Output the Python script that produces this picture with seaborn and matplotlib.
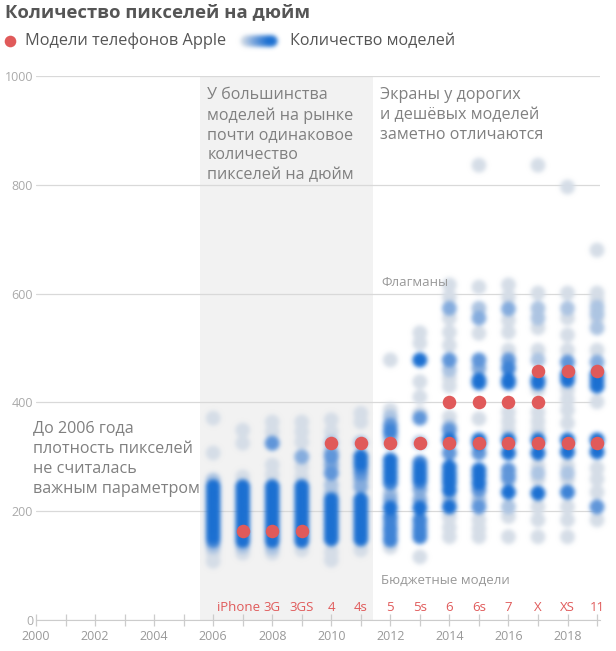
import numpy as np
import pandas as pd
import seaborn as sns
import matplotlib.pyplot as plt
from matplotlib.colors import LinearSegmentedColormap

# pixel density of phone models released each year, and how many models had it
YEARS = list(range(2006, 2020))
ppi_2006 = [371, 307, 257, 245, 236, 227, 218, 209, 200, 191, 182, 173, 164, 155, 146, 135, 123, 108]
cnt_2006 = [1, 1, 2, 6, 8, 7, 8, 7, 9, 7, 8, 7, 8, 9, 5, 2, 1, 1]
ppi_2007 = [349, 325, 263, 245, 236, 227, 218, 209, 200, 191, 182, 173, 164, 155, 146, 135, 123]
cnt_2007 = [1, 1, 1, 6, 7, 8, 7, 8, 8, 8, 7, 8, 9, 8, 6, 2, 1]
ppi_2008 = [364, 346, 325, 285, 267, 245, 236, 227, 218, 209, 200, 191, 182, 173, 164, 155, 146, 133, 123]
cnt_2008 = [1, 1, 4, 1, 1, 7, 8, 8, 7, 8, 8, 7, 8, 7, 8, 8, 6, 2, 1]
ppi_2009 = [364, 346, 327, 300, 281, 263, 245, 236, 227, 218, 209, 200, 191, 182, 173, 164, 155, 146, 129]
cnt_2009 = [1, 1, 1, 3, 1, 1, 6, 7, 8, 7, 8, 8, 7, 8, 7, 8, 8, 6, 1]
ppi_2010 = [368, 346, 326, 307, 300, 285, 270, 248, 233, 221, 212, 203, 194, 185, 176, 167, 158, 149, 125, 110]
cnt_2010 = [1, 1, 2, 3, 4, 3, 4, 2, 2, 7, 8, 8, 7, 8, 7, 8, 7, 6, 1, 1]
ppi_2011 = [380, 364, 326, 300, 290, 281, 270, 258, 245, 221, 212, 203, 194, 185, 176, 167, 158, 149, 129]
cnt_2011 = [1, 1, 2, 6, 6, 5, 4, 3, 3, 8, 7, 8, 8, 7, 8, 7, 8, 6, 1]
ppi_2012 = [478, 386, 373, 358, 347, 337, 326, 294, 283, 272, 262, 252, 232, 221, 206, 189, 178, 167, 157, 147, 134]
cnt_2012 = [1, 1, 2, 4, 5, 3, 2, 6, 7, 7, 6, 5, 2, 3, 8, 5, 4, 5, 4, 5, 1]
ppi_2013 = [528, 509, 478, 438, 410, 380, 371, 326, 289, 279, 270, 262, 254, 240, 221, 206, 184, 173, 163, 153, 116]
cnt_2013 = [1, 1, 6, 1, 1, 1, 4, 2, 5, 7, 8, 6, 5, 3, 3, 8, 5, 4, 5, 5, 1]
ppi_2014 = [616, 594, 573, 555, 529, 505, 478, 460, 445, 430, 373, 355, 349, 331, 307, 281, 270, 261, 252, 239, 223, 208, 189, 170, 153]
cnt_2014 = [1, 1, 3, 1, 1, 1, 4, 2, 1, 1, 1, 2, 4, 8, 4, 7, 8, 8, 6, 7, 2, 7, 1, 1, 1]
ppi_2015 = [836, 612, 573, 555, 527, 478, 463, 441, 436, 370, 331, 326, 307, 276, 265, 252, 239, 221, 208, 184, 168, 153]
cnt_2015 = [1, 1, 2, 3, 1, 4, 3, 8, 8, 1, 7, 6, 4, 8, 8, 7, 4, 2, 4, 1, 1, 1]
ppi_2016 = [616, 594, 572, 551, 529, 496, 478, 463, 441, 436, 382, 365, 349, 331, 307, 276, 265, 259, 235, 208, 190, 153]
cnt_2016 = [1, 1, 3, 1, 1, 1, 4, 5, 8, 7, 1, 1, 1, 8, 7, 4, 4, 3, 7, 2, 1, 1]
ppi_2017 = [836, 601, 573, 555, 537, 496, 478, 441, 436, 423, 382, 365, 349, 331, 307, 283, 270, 259, 233, 208, 184, 153]
cnt_2017 = [1, 1, 2, 2, 1, 1, 2, 8, 8, 1, 1, 1, 1, 8, 8, 1, 2, 1, 7, 1, 1, 1]
ppi_2018 = [796, 601, 573, 555, 524, 496, 474, 450, 441, 423, 405, 386, 362, 331, 309, 283, 270, 259, 235, 208, 184, 153]
cnt_2018 = [1, 1, 2, 1, 1, 1, 4, 6, 8, 1, 1, 1, 1, 8, 8, 1, 2, 1, 5, 1, 1, 1]
ppi_2019 = [680, 601, 588, 575, 563, 555, 537, 496, 474, 450, 440, 430, 401, 331, 309, 279, 259, 235, 208, 184]
cnt_2019 = [1, 1, 1, 2, 2, 1, 2, 1, 3, 8, 8, 7, 1, 8, 8, 1, 1, 1, 4, 1]

PPI = [ppi_2006, ppi_2007, ppi_2008, ppi_2009, ppi_2010, ppi_2011, ppi_2012,
       ppi_2013, ppi_2014, ppi_2015, ppi_2016, ppi_2017, ppi_2018, ppi_2019]
CNT = [cnt_2006, cnt_2007, cnt_2008, cnt_2009, cnt_2010, cnt_2011, cnt_2012,
       cnt_2013, cnt_2014, cnt_2015, cnt_2016, cnt_2017, cnt_2018, cnt_2019]

# apple phones
apple_year = [2007, 2008, 2009, 2010, 2011, 2012, 2013, 2014, 2014, 2015, 2015,
              2016, 2016, 2017, 2017, 2017, 2018, 2018, 2019, 2019]
apple_ppi = [163, 163, 163, 326, 326, 326, 326, 326, 401, 326, 401,
             326, 401, 326, 401, 458, 326, 458, 326, 458]
model_year = list(range(2007, 2020))
model_name = ['iPhone', '3G', '3GS', '4', '4s', '5', '5s', '6', '6s', '7', 'X', 'XS', '11']

BLUE_CMAP = LinearSegmentedColormap.from_list('cnt', ['#d6dee8', '#6f9fdc', '#1a6fd2'])
RED = '#e05a5a'
TXT = '#808080'


def blur(im, dpi, sigma=1.5):
    # gaussian blur on premultiplied rgba, used as agg filter
    pad = int(3 * sigma) + 1
    src = np.pad(im, ((pad, pad), (pad, pad), (0, 0)))
    src[..., :3] *= src[..., 3:4]
    offs = np.arange(-pad, pad + 1)
    k = np.exp(-0.5 * (offs / sigma) ** 2)
    k /= k.sum()
    tmp = sum(w * np.roll(src, o, axis=0) for w, o in zip(k, offs))
    out = sum(w * np.roll(tmp, o, axis=1) for w, o in zip(k, offs))
    a = out[..., 3:4]
    out[..., :3] = np.where(a > 1e-4, out[..., :3] / np.maximum(a, 1e-4), 0)
    return out, -pad, -pad


rows = []
for year, ppis, cnts in zip(YEARS, PPI, CNT):
    for p, c in zip(ppis, cnts):
        rows.append((year, p, c))
df = pd.DataFrame(rows, columns=['year', 'ppi', 'count']).sort_values('count')

sns.set_style('white')
plt.rcParams['font.family'] = ['Open Sans', 'DejaVu Sans']

fig = plt.figure(figsize=(6.16, 6.51), dpi=100)
ax = fig.add_axes([36 / 616, 1 - 620 / 651, 564 / 616, 544 / 651])

ax.axvspan(2005.55, 2011.4, color='#f2f2f2', lw=0, zorder=0)
sns.scatterplot(data=df, x='year', y='ppi', hue='count', palette=BLUE_CMAP,
                hue_norm=(1, 6), s=115, linewidth=0, legend=False, ax=ax,
                zorder=2, clip_on=False)
ax.collections[-1].set_agg_filter(blur)
ax.scatter(apple_year, apple_ppi, s=95, color=RED, linewidth=0, zorder=3, clip_on=False)

ax.set_xlim(2000, 2019.1)
ax.set_ylim(0, 1000)
ax.set_xlabel('')
ax.set_ylabel('')
ax.set_yticks([0, 200, 400, 600, 800, 1000])
ax.set_xticks(list(range(2000, 2020)))
ax.set_xticklabels([str(y) if y % 2 == 0 else '' for y in range(2000, 2020)])
ax.yaxis.grid(True, color='#d9d9d9', lw=0.9)
ax.set_axisbelow(True)
for s in ['top', 'right', 'left']:
    ax.spines[s].set_visible(False)
ax.spines['bottom'].set_color('#cccccc')
ax.tick_params(axis='y', length=0, pad=2, labelsize=9, labelcolor='#aaaaaa')
ax.tick_params(axis='x', direction='inout', length=8, width=0.9, color='#cccccc',
               pad=3, labelsize=9, labelcolor='#999999', bottom=True)
for tick, y in zip(ax.xaxis.get_major_ticks(), range(2000, 2020)):
    if y in model_year:
        tick.tick1line.set_color('#eea3a3')

# model names above the axis
for y, name in zip(model_year, model_name):
    ax.annotate(name, (y, 0), xytext=(-3 if name == 'iPhone' else 0, 4),
                textcoords='offset points', ha='center', va='bottom',
                color=RED, fontsize=9.5)

ax.text(1999.9, 367, 'До 2006 года\nплотность пикселей\nне считалась\nважным параметром',
        va='top', ha='left', color=TXT, fontsize=11.6, linespacing=1.36)
ax.text(2005.8, 980, 'У большинства\nмоделей на рынке\nпочти одинаковое\nколичество\nпикселей на дюйм',
        va='top', ha='left', color=TXT, fontsize=11.6, linespacing=1.33)
ax.text(2011.65, 980, 'Экраны у дорогих\nи дешёвых моделей\nзаметно отличаются',
        va='top', ha='left', color=TXT, fontsize=11.6, linespacing=1.33)
ax.text(2011.7, 620, 'Флагманы', va='center', ha='left', color='#999999', fontsize=9.5)
ax.text(2011.7, 72, 'Бюджетные модели', va='center', ha='left', color='#999999', fontsize=9.5)

# header: title and legend, in pixel coordinates
top = fig.add_axes([0, 0, 1, 1], facecolor='none')
top.set_xlim(0, 616)
top.set_ylim(651, 0)
top.axis('off')
top.text(5, 12, 'Количество пикселей на дюйм', va='center', ha='left',
         fontsize=13.3, fontweight='bold', color='#555555')
top.scatter([10], [41], s=70, color=RED, linewidth=0)
top.text(25, 41, 'Модели телефонов Apple', va='center', ha='left', fontsize=11.8, color='#555555')
levels = np.linspace(1, 6, 16)
top.scatter(np.linspace(246, 272, 16), [41] * 16, c=levels, cmap=BLUE_CMAP,
            vmin=1, vmax=6, s=65, linewidth=0)
top.collections[-1].set_agg_filter(blur)
top.text(290, 41, 'Количество моделей', va='center', ha='left', fontsize=11.6, color='#555555')

fig.savefig('out.png', dpi=100)
